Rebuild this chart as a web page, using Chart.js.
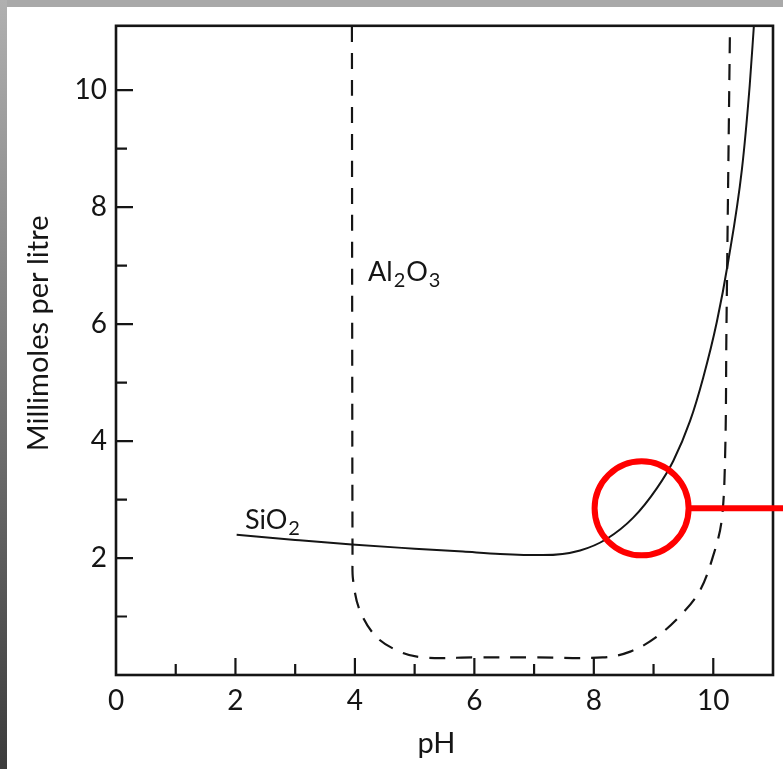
<!DOCTYPE html>
<html><head><meta charset="utf-8">
<script src="https://cdn.jsdelivr.net/npm/chart.js@4.4.1/dist/chart.umd.min.js"></script>
<style>html,body{margin:0;padding:0;background:#fff;overflow:hidden}#wrap{position:relative;width:783px;height:769px}</style>
</head><body><div id="wrap"><canvas id="c"></canvas></div>
<script>
// ---- data ----
const siO2pH   = [2.02, 3.00, 3.95, 5.00, 5.81, 6.43, 7.15, 7.77, 8.22, 8.66, 9.06, 9.33, 9.61, 9.83, 10.06, 10.25, 10.48, 10.61, 10.68];
const siO2Conc = [2.40, 2.31, 2.23, 2.16, 2.11, 2.07, 2.05, 2.13, 2.33, 2.69, 3.20, 3.66, 4.34, 5.08, 6.04, 7.07, 8.65, 10.08, 11.10];
const al2O3pH   = [3.95, 3.96, 3.97, 4.08, 4.36, 4.75, 5.14, 6.00, 7.00, 8.15, 8.61, 9.05, 9.49, 9.78, 9.99, 10.14, 10.20, 10.22, 10.28];
const al2O3Conc = [11.10, 1.99, 1.62, 1.11, 0.65, 0.40, 0.30, 0.30, 0.30, 0.30, 0.40, 0.65, 1.06, 1.45, 2.01, 2.64, 3.83, 5.87, 11.10];
const xTickLabels = [0, 2, 4, 6, 8, 10];
const yTickLabels = [2, 4, 6, 8, 10];
const xMajorTicks = [2, 4, 6, 8, 10];
const xMinorTicks = [1, 3, 5, 7, 9];
const yMajorTicks = [2, 4, 6, 8, 10];
const yMinorTicks = [1, 3, 5, 7, 9];
const xTitle = 'pH';
const yTitle = 'Millimoles per litre';
const seriesNames = [
  { parts: [['SiO', 0], ['2', 1]], x: 2.16, y: 2.50 },
  { parts: [['Al', 0], ['2', 1], ['O', 0], ['3', 1]], x: 4.22, y: 6.74 }
];
const highlight = { x: 8.80, y: 2.85 };

// ---- rendering ----
const FONT = 'Lato, "Open Sans", sans-serif';
const INK = '#151515';

function shiftTitle(scale, dx, dy) {
  if (scale._titleShifted) return;
  const orig = scale.drawTitle.bind(scale);
  scale.drawTitle = function () {
    const ctx = this.ctx;
    ctx.save(); ctx.translate(dx, dy); orig(); ctx.restore();
  };
  scale._titleShifted = true;
}

const decor = {
  id: 'decor',
  beforeDraw(chart) {
    shiftTitle(chart.scales.x, -8, 0);
    shiftTitle(chart.scales.y, 0, -17);
    const ctx = chart.ctx, W = chart.width, H = chart.height;
    ctx.save();
    ctx.fillStyle = '#fff'; ctx.fillRect(0, 0, W, H);
    ctx.fillStyle = '#a9a9a9'; ctx.fillRect(0, 0, W, 7);
    const g = ctx.createLinearGradient(0, 0, 0, H);
    g.addColorStop(0, '#b0b0b0'); g.addColorStop(1, '#3c3c3c');
    ctx.fillStyle = g; ctx.fillRect(0, 0, 7, H);
    ctx.restore();
  },
  afterDatasetsDraw(chart) {
    const { ctx, chartArea: a, scales: { x, y } } = chart;
    ctx.save();
    ctx.strokeStyle = INK; ctx.lineWidth = 2.6;
    ctx.strokeRect(a.left, a.top, a.right - a.left, a.bottom - a.top);
    ctx.lineWidth = 2.2;
    ctx.beginPath();
    xMajorTicks.forEach(v => { const p = x.getPixelForValue(v); ctx.moveTo(p, a.bottom); ctx.lineTo(p, a.bottom - 17); });
    xMinorTicks.forEach(v => { const p = x.getPixelForValue(v); ctx.moveTo(p, a.bottom); ctx.lineTo(p, a.bottom - 11); });
    yMajorTicks.forEach(v => { const p = y.getPixelForValue(v); ctx.moveTo(a.left, p); ctx.lineTo(a.left + 17, p); });
    yMinorTicks.forEach(v => { const p = y.getPixelForValue(v); ctx.moveTo(a.left, p); ctx.lineTo(a.left + 11, p); });
    ctx.stroke();

    ctx.fillStyle = INK; ctx.textAlign = 'left'; ctx.textBaseline = 'alphabetic';
    seriesNames.forEach(lab => {
      let px = x.getPixelForValue(lab.x);
      const py = y.getPixelForValue(lab.y);
      lab.parts.forEach(([t, sub]) => {
        ctx.font = sub ? `20px ${FONT}` : `27px ${FONT}`;
        ctx.fillText(t, px, sub ? py + 6 : py);
        px += ctx.measureText(t).width + 1;
      });
    });

    const cx = x.getPixelForValue(highlight.x), cy = y.getPixelForValue(highlight.y);
    ctx.strokeStyle = '#ff0000'; ctx.lineWidth = 6;
    ctx.beginPath(); ctx.arc(cx, cy, 47, 0, Math.PI * 2); ctx.stroke();
    ctx.beginPath(); ctx.moveTo(cx + 47, cy); ctx.lineTo(chart.width, cy); ctx.stroke();
    ctx.restore();
  }
};

const toPts = (xs, ys) => xs.map((v, i) => ({ x: v, y: ys[i] }));

new Chart(document.getElementById('c'), {
  type: 'line',
  data: {
    datasets: [
      { label: 'SiO2', data: toPts(siO2pH, siO2Conc), borderColor: INK, borderWidth: 2,
        cubicInterpolationMode: 'monotone', pointRadius: 0, fill: false },
      { label: 'Al2O3', data: toPts(al2O3pH, al2O3Conc), borderColor: INK, borderWidth: 2.2,
        borderDash: [16, 11], tension: 0.35, pointRadius: 0, fill: false }
    ]
  },
  options: {
    responsive: true, maintainAspectRatio: false, animation: false, devicePixelRatio: 1,
    layout: { padding: { top: 23, right: 10, left: 0, bottom: 0 } },
    plugins: { legend: { display: false }, tooltip: { enabled: false } },
    scales: {
      x: {
        type: 'linear', min: 0, max: 11, position: 'bottom',
        afterFit(s) { s.height = 94; },
        afterBuildTicks(s) { s.ticks = xTickLabels.map(v => ({ value: v })); },
        grid: { display: false, drawTicks: false }, border: { display: false },
        ticks: { font: { family: FONT, size: 28 }, color: INK, padding: 9, maxRotation: 0, autoSkip: false,
                 callback: v => String(v) },
        title: { display: true, text: xTitle, font: { family: FONT, size: 29 }, color: INK, padding: { top: 0, bottom: 8 } }
      },
      y: {
        type: 'linear', min: 0, max: 11.1, position: 'left',
        afterFit(s) { s.width = 116; },
        afterBuildTicks(s) { s.ticks = yTickLabels.map(v => ({ value: v })); },
        grid: { display: false, drawTicks: false }, border: { display: false },
        ticks: { font: { family: FONT, size: 28 }, color: INK, padding: 9, autoSkip: false,
                 callback: v => String(v) },
        title: { display: true, text: yTitle, font: { family: FONT, size: 29 }, color: INK, padding: { top: 21, bottom: 0 } }
      }
    }
  },
  plugins: [decor]
});
</script>
</body></html>
